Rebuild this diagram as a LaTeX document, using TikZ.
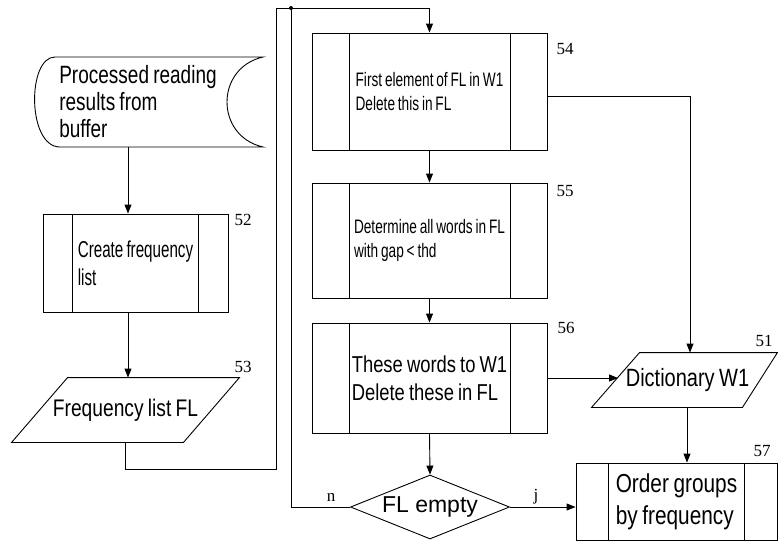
\documentclass[tikz,border=0pt]{standalone}
\usepackage{fontspec}
\setmainfont{Liberation Serif}
\newfontfamily\fsa[FakeStretch=0.70,WordSpace=0.75]{Liberation Sans}
\newfontfamily\fsb[FakeStretch=0.80,WordSpace=0.8]{Liberation Sans}
\newfontfamily\fsd[FakeStretch=0.76,WordSpace=0.8]{Liberation Sans}
\newfontfamily\fse[FakeStretch=0.66,WordSpace=0.75]{Liberation Sans}
\newfontfamily\fsc{Liberation Sans}
\usetikzlibrary{shapes.geometric,arrows.meta}

\begin{document}
\begin{tikzpicture}[x=1pt,y=-1pt, line width=0.9pt,
  arr/.style={-{Triangle[length=9pt,width=7pt]}},
  pproc/.style={draw, rectangle, inner sep=0pt, align=left,
    path picture={
      \draw[line width=0.9pt] ([xshift=#1]path picture bounding box.north west) -- ([xshift=#1]path picture bounding box.south west);
      \draw[line width=0.9pt] ([xshift=-#1]path picture bounding box.north east) -- ([xshift=-#1]path picture bounding box.south east);}},
  txt/.style={rectangle, inner sep=0pt, align=left},
  lbl/.style={inner sep=0pt, font=\fontsize{17}{17}\selectfont},
  dec/.style={draw, diamond, aspect=2.5, inner sep=0pt}
]
\fill[white] (0,0) rectangle (778,544);
\useasboundingbox (0,0) rectangle (778,544);

% helper coordinates
\coordinate (c1) at (128,0);
\coordinate (jn) at (291,8);
\coordinate (k1) at (690,96);
\coordinate (k3) at (687,0);
\coordinate (k4) at (618,0);
\coordinate (k6) at (276,469);

% stored data
\node[txt, minimum width=229, minimum height=90,
      font=\fsd\fontsize{25}{27}\selectfont] (src) at (138,102)
  {Processed reading\\results from\\buffer};
\draw (55,57) -- (263,57) .. controls (215,68) and (215,136) .. (263,147)
      -- (60,147) .. controls (27,147) and (27,57) .. (55,57) -- cycle;

% process boxes
\node[pproc=29.5, minimum width=185, minimum height=98,
      font=\fse\fontsize{23}{28}\selectfont] (b52) at (135.5,263)
  {Create frequency\\list};
\node[pproc=37, minimum width=235, minimum height=117,
      font=\fsa\fontsize{19.5}{24}\selectfont] (b54) at (429.5,91.5)
  {First element of FL in W1\\Delete this in FL};
\node[pproc=37, minimum width=235, minimum height=115,
      font=\fsa\fontsize{19.5}{24}\selectfont] (b55) at (429.5,240.5)
  {Determine all words in FL\\with gap < thd};
\node[pproc=37, minimum width=235, minimum height=110,
      font=\fsb\fontsize{23}{28}\selectfont] (b56) at (429.5,378)
  {These words to W1\\Delete these in FL};
\node[pproc=32.5, minimum width=201, minimum height=77,
      font=\fsb\fontsize{26}{32}\selectfont] (b57) at (676.5,501.5)
  {Order groups\\by frequency};

% parallelograms
\node[txt, minimum width=227, minimum height=64,
      font=\fsb\fontsize{24}{28}\selectfont] (fl) at (125.5,410) {Frequency list FL};
\draw (fl.south west) -- ([xshift=-56]fl.south east) -- (fl.north east)
      -- ([xshift=56]fl.north west) -- cycle;
\node[txt, minimum width=185, minimum height=54,
      font=\fsb\fontsize{25}{28}\selectfont] (dict) at (684.5,380) {\hspace*{6pt}Dictionary W1};
\draw (dict.south west) -- ([xshift=-35]dict.south east) -- (dict.north east)
      -- ([xshift=48]dict.north west) -- cycle;

% decision
\node[dec, minimum width=159, minimum height=64,
      font=\fsc\fontsize{23}{26}\selectfont] (dia) at (430,507) {FL empty};

% labels
\node[lbl] (l52) at (243,220) {52};
\node[lbl] (l53) at (243,367) {53};
\node[lbl] (l54) at (565,49) {54};
\node[lbl] (l55) at (565,191) {55};
\node[lbl] (l56) at (566,328) {56};
\node[lbl] (l51) at (764,341) {51};
\node[lbl] (l57) at (762,451) {57};
\node[lbl] (ln) at (331,497) {n};
\node[lbl] (lj) at (536,497) {j};

% connectors
\draw[arr] (src.south -| c1) -- (b52.north -| c1);
\draw[arr] (b52.south -| c1) -- (fl.north -| c1);
\draw (fl.south) |- (k6) |- (jn);
\draw[arr] (dia.west) -| (jn) -| (b54.north);
\fill (jn) circle (2);
\draw[arr] (b54.south) -- (b55.north);
\draw[arr] (b55.south) -- (b56.north);
\draw[arr] (b56.south) -- (dia.north);
\draw[arr] (b54.east |- k1) -- (k1) -- (dict.north -| k1);
\draw[arr] (b56.east) -- (b56.east -| k4);
\draw[arr] (dict.south -| k3) -- (b57.north -| k3);
\draw[arr] (dia.east) -- (dia.east -| b57.west);
\end{tikzpicture}
\end{document}
